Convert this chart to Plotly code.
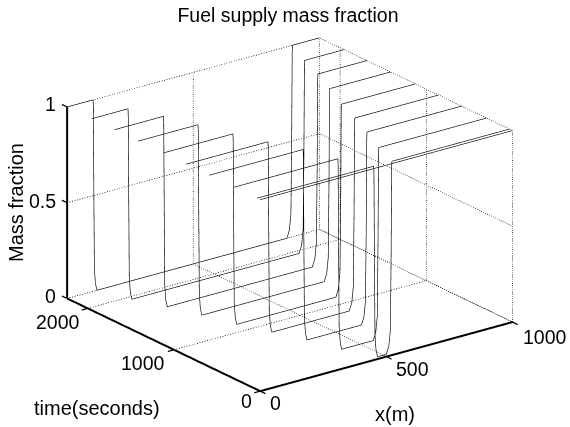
import plotly.graph_objects as go

# Fronts: one x list per time slice, sharing z_profile
times = [2240, 1955, 1690, 1415, 1127, 858, 591, 302, 36]
z_profile = [1, 1, 0.96, 0.5, 0.12, 0.04, 0, 0, 0.04, 0.12, 0.5, 0.96, 1, 1]
x_2240 = [0, 103, 104, 106, 108, 112, 118, 871, 881, 887, 890, 892, 893, 1000]
x_1955 = [0, 144, 145, 147, 149, 153, 159, 822, 832, 838, 841, 843, 844, 1000]
x_1690 = [0, 194, 195, 197, 199, 203, 209, 784, 794, 800, 803, 805, 806, 1000]
x_1415 = [0, 237, 238, 240, 242, 246, 252, 737, 747, 753, 756, 758, 759, 1000]
x_1127 = [0, 277, 278, 280, 282, 286, 292, 685, 695, 701, 704, 706, 707, 1000]
x_858 = [0, 324, 325, 327, 329, 333, 339, 646, 656, 662, 665, 667, 668, 1000]
x_591 = [0, 372, 373, 375, 377, 381, 387, 603, 613, 619, 622, 624, 625, 1000]
x_302 = [0, 411, 412, 414, 416, 420, 426, 551, 561, 567, 570, 572, 573, 1000]
x_36 = [0, 462, 463, 465, 467, 471, 477, 512, 522, 528, 531, 533, 534, 1000]
x_curves = [x_2240, x_1955, x_1690, x_1415, x_1127, x_858, x_591, x_302, x_36]
# the t=0 slice is flat at 1
x_flat = [0, 1000]
z_flat = [1, 1]

x_ticks = [0, 500, 1000]
t_ticks = [0, 1000, 2000]
z_ticks = [0, 0.5, 1]
x_labels = ["0", "500", "1000"]
t_labels = ["0", "1000", "2000"]
z_labels = ["0", "0.5", "1"]

x_max = 1000
t_max = 2240
font_name = "Liberation Sans"

fig_w = 570
fig_h = 427

fig = go.Figure()

def add_line(xs, ts, zs, color="black", width=1.3, dash="solid"):
    fig.add_trace(go.Scatter3d(x=xs, y=ts, z=zs, mode="lines",
                               line=dict(color=color, width=width, dash=dash),
                               showlegend=False, hoverinfo="skip"))

def page_label(text, px, py, angle=0):
    return dict(text=text, x=px / fig_w, y=1 - py / fig_h,
                xref="paper", yref="paper", xanchor="center", yanchor="middle",
                showarrow=False, textangle=angle,
                font=dict(family=font_name, size=20, color="black"))

# Dotted box and grid on the floor and the two back walls
for z in z_ticks:
    add_line([0, x_max, x_max], [t_max, t_max, 0], [z, z, z], width=1.5, dash="dot")
for x in x_ticks[1:]:
    add_line([x, x, x], [0, t_max, t_max], [0, 0, 1], width=1.5, dash="dot")
for t in t_ticks:
    add_line([0, x_max, x_max], [t, t, t], [0, 0, 1], width=1.5, dash="dot")

# Time slices
for t, xs in zip(times, x_curves):
    add_line(xs, [t] * len(xs), z_profile)
add_line(x_flat, [0, 0], z_flat)

# Solid axes
add_line([0, x_max], [0, 0], [0, 0], width=4)
add_line([0, 0], [0, t_max], [0, 0], width=4)
add_line([0, 0], [t_max, t_max], [0, 1], width=4)

# Tick marks, each pointing out of the box
for x in x_ticks:
    add_line([x, x], [0, -60], [0, 0], width=2.5)
for t in t_ticks:
    add_line([0, -24], [t, t], [0, 0], width=2.5)
for z in z_ticks:
    add_line([0, 0], [t_max, t_max + 60], [z, z], width=2.5)

# Tick labels stay tied to the data, shifted in pixels
tick_font = dict(family=font_name, size=19.5, color="black")
annotations = []
for x, label, dx, dy in zip(x_ticks, x_labels, [15, 26, 32], [-12, -12, -15]):
    annotations.append(dict(x=x, y=0, z=0, text=label, showarrow=False, font=tick_font, xshift=dx, yshift=dy))
for t, label, dx, dy in zip(t_ticks, t_labels, [-14, -31, -30], [-10, -13, -14]):
    annotations.append(dict(x=0, y=t, z=0, text=label, showarrow=False, font=tick_font, xshift=dx, yshift=dy))
for z, label, dy in zip(z_ticks, z_labels, [2, 2, 3]):
    annotations.append(dict(x=0, y=t_max, z=z, text=label, showarrow=False, font=tick_font, xanchor="right", xshift=-9, yshift=dy))

# eye is the view direction plus the centre, so panning does not tilt the box
view = (-0.6535, -0.8652, 0.422)
center = (-0.018, 0.0137, 0.005)

fig.update_layout(
    width=fig_w,
    height=fig_h,
    margin=dict(l=0, r=0, t=0, b=0),
    paper_bgcolor="white",
    showlegend=False,
    title=dict(text="Fuel supply mass fraction", x=288 / fig_w, xanchor="center",
               y=1 - 15 / fig_h, yanchor="middle",
               font=dict(family=font_name, size=19.5, color="black")),
    annotations=[
        page_label("Mass fraction", 16, 203, angle=-90),
        page_label("time(seconds)", 97, 408),
        page_label("x(m)", 395, 414),
    ],
    scene=dict(
        domain=dict(x=[0, 1], y=[0, 1]),
        xaxis=dict(visible=False, range=[-30, 1030]),
        yaxis=dict(visible=False, range=[-70, 2310]),
        zaxis=dict(visible=False, range=[-0.02, 1.02]),
        aspectmode="manual",
        aspectratio=dict(x=1.57, y=1.5945, z=1.001),
        camera=dict(
            projection=dict(type="orthographic"),
            eye=dict(x=view[0] + center[0], y=view[1] + center[1], z=view[2] + center[2]),
            up=dict(x=0, y=0, z=1),
            center=dict(x=center[0], y=center[1], z=center[2]),
        ),
        annotations=annotations,
    ),
)

# drop the page's default body margin so the figure fills the window exactly
fig.write_html("out.html", config={"displayModeBar": False},
               post_script="document.body.style.margin = '0';")
